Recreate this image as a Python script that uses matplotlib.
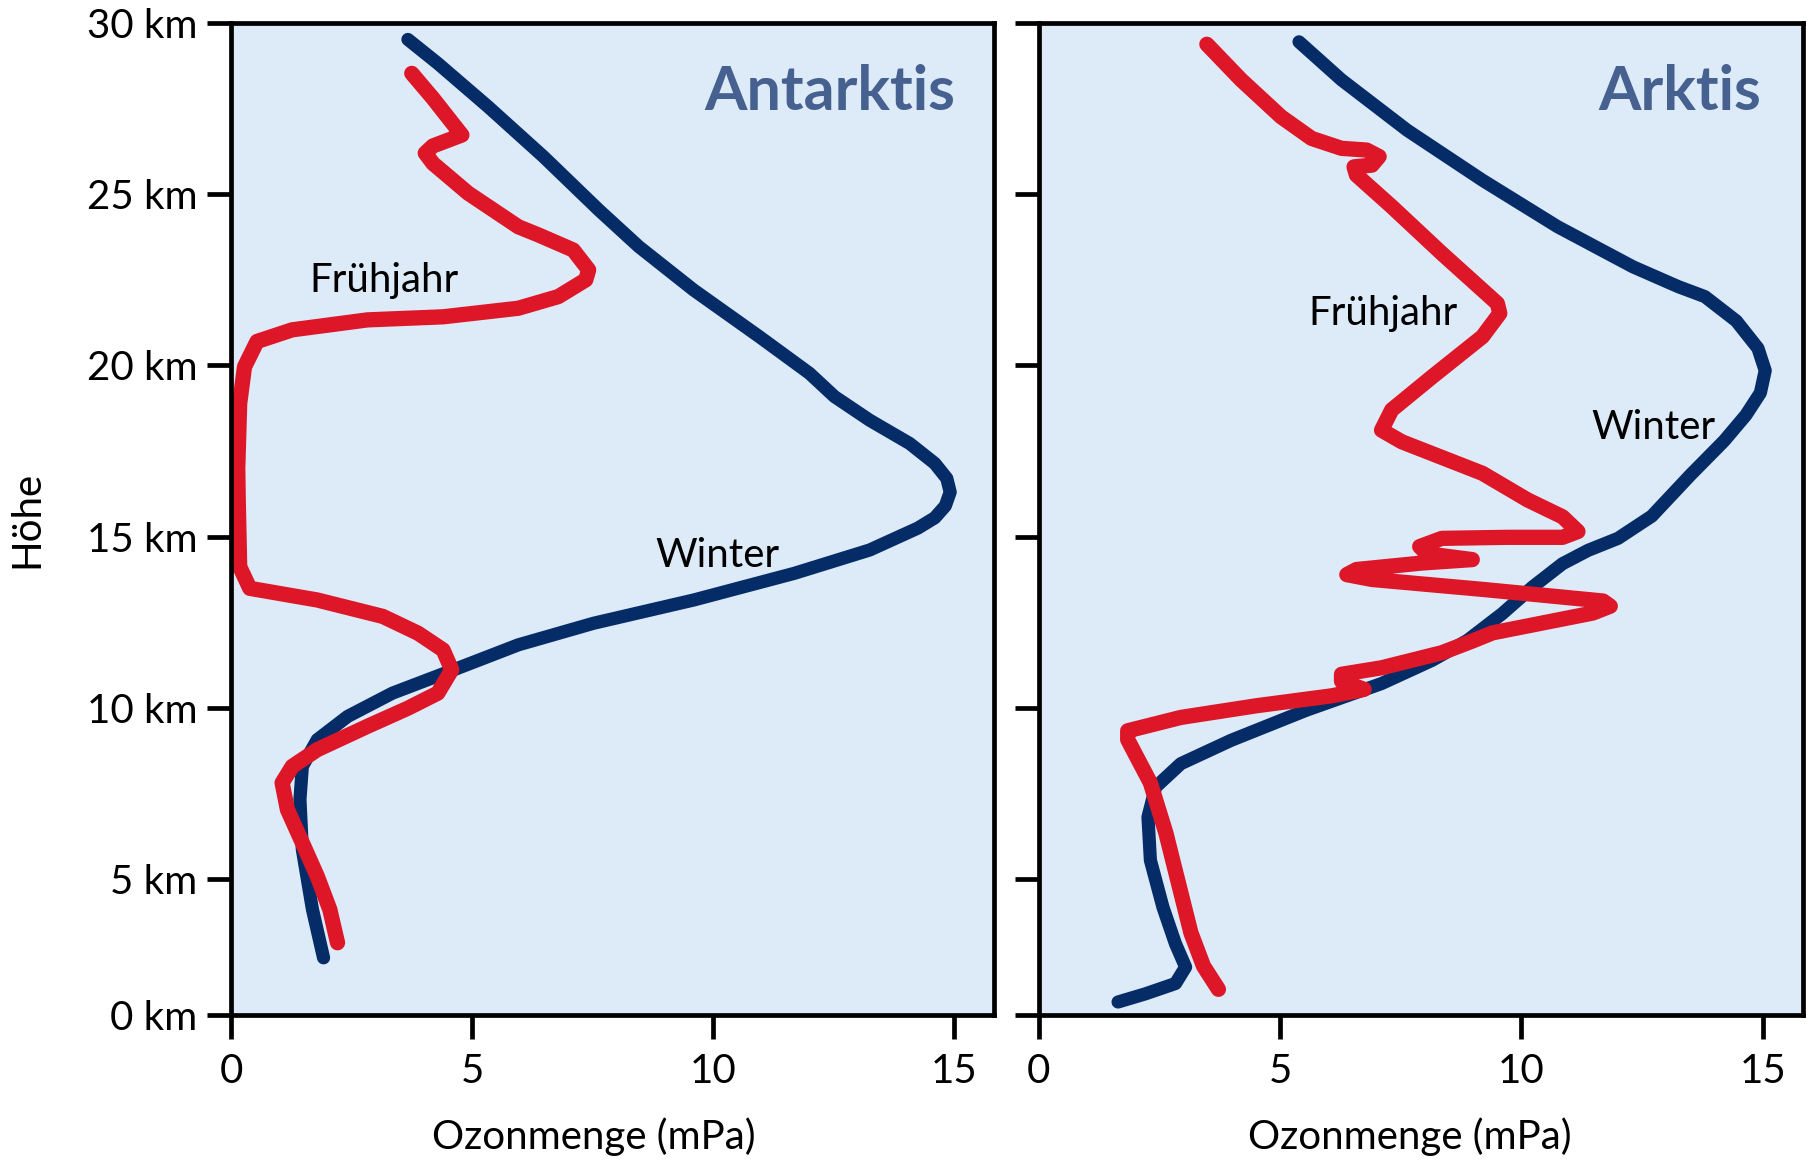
from matplotlib import pyplot as plt

# Ozone profiles, Antarctic and Arctic, winter vs spring

# Antarktis - Winter (x = ozone mPa, y = height km)
ant_winter_x = [3.67, 4.29, 5.33, 6.48, 7.63, 8.46, 9.60, 10.96, 12.0, 12.52, 13.25, 14.08,
                14.60, 14.85, 14.92, 14.82, 14.60, 14.25, 13.25, 11.69, 9.60, 7.52, 5.96, 4.71,
                3.35, 2.42, 1.79, 1.48, 1.43, 1.48, 1.69, 1.92]
ant_winter_y = [29.52, 28.82, 27.56, 26.10, 24.54, 23.47, 22.20, 20.84, 19.77, 19.09, 18.40,
                17.72, 17.14, 16.70, 16.30, 15.90, 15.55, 15.25, 14.61, 13.93, 13.15, 12.47,
                11.84, 11.16, 10.43, 9.75, 9.07, 8.29, 7.32, 5.86, 4.11, 2.70]

# Antarktis - Fruehjahr
ant_spring_x = [3.75, 4.19, 4.76, 4.79, 4.19, 4.03, 4.19, 4.92, 5.96, 6.38, 7.10, 7.42, 7.36,
                6.79, 5.96, 4.40, 2.83, 1.27, 0.54, 0.28, 0.18, 0.14, 0.15, 0.18, 0.39,
                1.79, 3.15, 3.88, 4.40, 4.58, 4.29, 3.67, 2.83, 1.79, 1.27, 1.06, 1.17,
                1.48, 1.79, 2.05, 2.21]
ant_spring_y = [28.53, 27.80, 26.78, 26.73, 26.41, 26.20, 25.90, 25.03, 24.05, 23.81, 23.37,
                22.79, 22.50, 22.01, 21.67, 21.42, 21.33, 21.04, 20.70, 19.96, 18.89, 17.0,
                16.07, 14.12, 13.49, 13.15, 12.67, 12.18, 11.69, 11.11, 10.43, 9.99, 9.46,
                8.78, 8.29, 7.81, 7.03, 6.06, 5.08, 4.11, 3.14]

# Arktis - Winter
ark_winter_x = [5.39, 6.27, 7.63, 9.19, 10.75, 12.31, 13.25, 13.80, 14.45, 14.90, 15.05,
                14.95, 14.65, 14.20, 13.50, 12.70, 12.00, 11.38, 10.85, 10.23, 9.60, 8.88,
                8.15, 7.10, 5.54, 3.98, 2.94, 2.42, 2.26, 2.31, 2.57, 2.83, 3.04, 2.83, 2.21,
                1.64]
ark_winter_y = [29.45, 28.34, 26.87, 25.41, 24.05, 22.88, 22.30, 22.01, 21.30, 20.50, 19.85,
                19.20, 18.55, 17.80, 16.80, 15.60, 14.95, 14.60, 14.21, 13.53, 12.75, 11.97,
                11.39, 10.71, 9.93, 9.05, 8.37, 7.69, 6.81, 5.55, 4.18, 3.11, 2.43, 1.95,
                1.65, 1.41]

# Arktis - Fruehjahr
ark_spring_x = [3.48, 4.19, 5.02, 5.65, 6.27, 6.79, 7.05, 6.90, 6.53, 6.58, 7.31, 8.35, 9.50,
                9.55, 9.19, 8.15, 7.31, 7.10, 7.52, 9.19, 10.13, 10.85, 11.17, 10.85, 9.71,
                8.35, 7.89, 8.04, 8.98, 7.94, 6.58, 6.38, 6.90, 9.19, 11.69, 11.84, 11.48,
                9.40, 8.98, 8.35, 7.10, 6.27, 6.27, 6.74, 6.06, 4.50, 2.94, 1.84, 1.84,
                2.31, 2.63, 2.89, 3.15, 3.41, 3.72]
ark_spring_y = [29.38, 28.34, 27.26, 26.63, 26.34, 26.29, 26.10, 25.85, 25.80, 25.56, 24.64,
                23.27, 21.81, 21.52, 20.84, 19.67, 18.70, 18.11, 17.77, 16.85, 16.07, 15.58,
                15.15, 14.98, 14.98, 14.95, 14.71, 14.50, 14.33, 14.23, 14.04, 13.89, 13.75,
                13.46, 13.12, 12.97, 12.77, 12.19, 11.95, 11.61, 11.17, 10.98, 10.78, 10.54,
                10.35, 10.06, 9.72, 9.33, 9.07, 7.81, 6.35, 4.89, 3.43, 2.46, 1.78]

# axis stuff - the picture's "0 km" tick sits at the bottom edge (about 1 km on the linear scale)
y_bottom = 1.03
y_ticks = [y_bottom, 5, 10, 15, 20, 25, 30]
y_tick_labels = ["0 km", "5 km", "10 km", "15 km", "20 km", "25 km", "30 km"]
x_ticks = [0, 5, 10, 15]

bg_col = "#DDEBF8"
winter_col = "#062C67"
spring_col = "#DD1628"
title_col = "#46618F"

plt.rcParams['font.family'] = ['Lato', 'DejaVu Sans']

fig = plt.figure(figsize=(18.09, 11.62), dpi=100)

ax1 = fig.add_axes([0.1277, 0.1265, 0.4218, 0.8537])
ax2 = fig.add_axes([0.5743, 0.1265, 0.4223, 0.8537])

for ax in (ax1, ax2):
    ax.set_facecolor(bg_col)
    ax.set_xlim(0, 15.83)
    ax.set_ylim(y_bottom, 30)
    for sp in ax.spines.values():
        sp.set_linewidth(3.4)
    ax.set_xticks(x_ticks)
    ax.set_xticklabels([str(t) for t in x_ticks])
    ax.set_yticks(y_ticks)
    ax.tick_params(axis='both', length=17, width=3.4, labelsize=29, direction='out')
    ax.tick_params(axis='x', pad=10)
    ax.tick_params(axis='y', pad=7)
    ax.set_xlabel("Ozonmenge (mPa)", fontsize=29)

# x labels sit a little left of centre in the original
ax1.xaxis.set_label_coords(0.476, -0.103)
ax2.xaxis.set_label_coords(0.485, -0.103)

ax1.set_yticklabels(y_tick_labels)
ax2.set_yticklabels([])
ax1.set_ylabel("Höhe", fontsize=29, labelpad=30)

lw_w = 9.5
lw_s = 11.0

ax1.plot(ant_winter_x, ant_winter_y, color=winter_col, lw=lw_w,
         solid_capstyle='round', solid_joinstyle='round', clip_on=False)
ax1.plot(ant_spring_x, ant_spring_y, color=spring_col, lw=lw_s,
         solid_capstyle='round', solid_joinstyle='round', clip_on=False)

ax2.plot(ark_winter_x, ark_winter_y, color=winter_col, lw=lw_w,
         solid_capstyle='round', solid_joinstyle='round', clip_on=False)
ax2.plot(ark_spring_x, ark_spring_y, color=spring_col, lw=lw_s,
         solid_capstyle='round', solid_joinstyle='round', clip_on=False)

# region titles
ax1.text(0.949, 0.912, "Antarktis", transform=ax1.transAxes, ha='right', va='baseline',
         fontsize=44, fontweight='bold', color=title_col)
ax2.text(0.945, 0.912, "Arktis", transform=ax2.transAxes, ha='right', va='baseline',
         fontsize=44, fontweight='bold', color=title_col)

# curve labels
ax1.text(1.62, 22.15, "Frühjahr", fontsize=29, ha='left', va='baseline')
ax1.text(8.8, 14.10, "Winter", fontsize=29, ha='left', va='baseline')
ax2.text(5.58, 21.17, "Frühjahr", fontsize=29, ha='left', va='baseline')
ax2.text(11.44, 17.84, "Winter", fontsize=29, ha='left', va='baseline')

plt.savefig("out.png", dpi=100)
